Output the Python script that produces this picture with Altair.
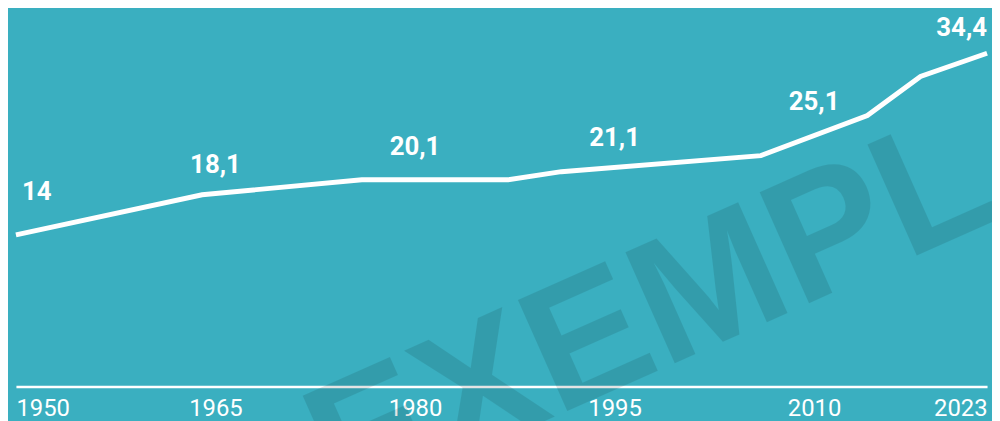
import altair as alt
import pandas as pd

# ---- data ----
line_years = [1950, 1964, 1976, 1987, 1991, 2006, 2014, 2018, 2023]
line_values = [14.0, 18.5, 20.2, 20.2, 21.1, 22.9, 27.4, 31.8, 34.4]

label_years = [1950, 1965, 1980, 1995, 2010, 2023]
label_values = [14, 18.1, 20.1, 21.1, 25.1, 34.4]
label_texts = ["14", "18,1", "20,1", "21,1", "25,1", "34,4"]

axis_years = [1950, 1965, 1980, 1995, 2010, 2023]

watermark_text = ["EXEMPLAR"]

# ---- styling ----
BG = "#3AAFC0"
FONT = "Roboto, sans-serif"

line_df = pd.DataFrame({"year": line_years, "value": line_values})
lab_df = pd.DataFrame({"year": label_years, "value": label_values, "txt": label_texts})
first_df = lab_df.iloc[:1]
mid_df = lab_df.iloc[1:-1]
last_df = lab_df.iloc[-1:]
wm_df = pd.DataFrame({"t": watermark_text})

x_scale = alt.Scale(domain=[1950, 2023], nice=False, zero=False)
y_scale = alt.Scale(domain=[-3.05, 39.3], nice=False, zero=False)

x_axis = alt.Axis(
    values=axis_years, format="d", title=None, grid=False, ticks=False,
    domain=True, domainColor="white", domainWidth=2.5,
    labelColor="white", labelFont=FONT, labelFontSize=24,
    labelPadding=10, labelFlush=True, labelOverlap=False,
)

line = alt.Chart(line_df).mark_line(color="white", strokeWidth=5).encode(
    x=alt.X("year:Q", scale=x_scale, axis=x_axis),
    y=alt.Y("value:Q", scale=y_scale, axis=None),
)

def labels(df, align, dx, dy):
    return alt.Chart(df).mark_text(
        align=align, baseline="middle", dx=dx, dy=dy, color="white",
        font=FONT, fontWeight="bold", fontSize=26,
    ).encode(
        x=alt.X("year:Q", scale=x_scale),
        y=alt.Y("value:Q", scale=y_scale),
        text="txt:N",
    )

lab_first = labels(first_df, "left", 6, -43)
lab_mid = labels(mid_df, "center", 0, -34)
lab_last = labels(last_df, "right", 0, -25)

watermark = alt.Chart(wm_df).mark_text(
    align="left", baseline="alphabetic", angle=336,
    font="Liberation Sans, Arial, sans-serif", fontWeight="bold", fontSize=178,
    color="black", opacity=0.1,
).encode(
    text="t:N",
    x=alt.value(328),
    y=alt.value(506),
)

chart = (
    alt.layer(line, lab_first, lab_mid, lab_last, watermark)
    .properties(
        width=979, height=380,
        padding={"left": 8, "top": 0, "right": 5, "bottom": 33},
        autosize="none",
        background=BG,
    )
    .configure_view(stroke=None)
)

chart.save("out.html", embed_options={"renderer": "svg", "actions": False})
